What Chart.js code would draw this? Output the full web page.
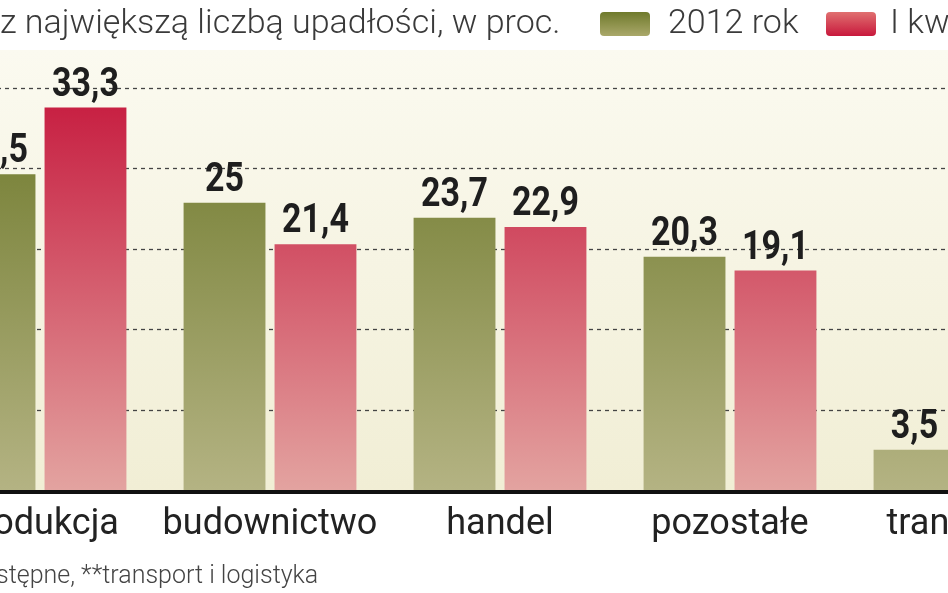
<!DOCTYPE html>
<html><head><meta charset="utf-8">
<script src="https://cdn.jsdelivr.net/npm/chart.js@4"></script>
<style>
html,body{margin:0;padding:0;width:948px;height:593px;overflow:hidden;background:#fff;position:relative;font-family:"Roboto",sans-serif}
#wrap{position:absolute;left:-75px;top:0;width:1150px;height:593px}
.t{position:absolute;color:#3a3a3a;font-size:34px;white-space:nowrap;top:1px;font-weight:300}
.sw{position:absolute;top:12px;width:50px;height:24px;border-radius:4px}
#foot{position:absolute;left:-4px;top:560px;font-size:25px;color:#444;white-space:nowrap;font-weight:300}
</style></head><body>
<div id="wrap"><canvas id="c" width="1150" height="593"></canvas></div>
<div class="t" style="left:0">z największą liczbą upadłości, w proc.</div>
<div class="sw" style="left:600px;background:linear-gradient(#6f7a2c,#aaa86a)"></div>
<div class="t" style="left:668px">2012 rok</div>
<div class="sw" style="left:826px;background:linear-gradient(#e07070,#c8183c)"></div>
<div class="t" style="left:890px">I kwartał 2013</div>
<div id="foot">stępne, **transport i logistyka</div>
<script>
const categories=["produkcja","budownictwo","handel","pozostałe","transport"];
const values2012=[27.5,25,23.7,20.3,3.5];
const values2013=[33.3,21.4,22.9,19.1,2.9];
const gridValues=[7,14,21,28,35];
const fmt=v=>String(v).replace('.',',');
function grad(ctx,area,top,bot){if(!area)return top;const g=ctx.createLinearGradient(0,area.top,0,area.bottom);g.addColorStop(0,top);g.addColorStop(1,bot);return g;}
const deco={id:'deco',
beforeDraw(ch){const {ctx,chartArea:a,scales:{y}}=ch;ctx.save();
 const g=ctx.createLinearGradient(0,50,0,a.bottom);g.addColorStop(0,'#fbfaf0');g.addColorStop(1,'#f1eed5');
 ctx.fillStyle=g;ctx.fillRect(0,50,ch.width,a.bottom-50);
 ctx.strokeStyle='#444';ctx.lineWidth=1.3;ctx.setLineDash([4,4]);
 gridValues.forEach(v=>{const p=Math.round(y.getPixelForValue(v))+0.5;ctx.beginPath();ctx.moveTo(0,p);ctx.lineTo(ch.width,p);ctx.stroke();});
 ctx.restore();},
afterDatasetsDraw(ch){const {ctx,chartArea:a,scales:{x}}=ch;ctx.save();
 ctx.fillStyle='#111';ctx.fillRect(0,a.bottom,ch.width,4);
 ctx.textAlign='center';ctx.textBaseline='bottom';ctx.fillStyle='#1e1e1e';
 ctx.font='bold 40px "Roboto",sans-serif';
 ch.data.datasets.forEach((ds,i)=>{ch.getDatasetMeta(i).data.forEach((b,j)=>{
  ctx.save();ctx.translate(b.x,b.y-2);ctx.scale(0.85,1);ctx.fillText(fmt(ds.data[j]),0,0);ctx.restore();});});
 ctx.font='36px "Roboto",sans-serif';ctx.textBaseline='middle';ctx.fillStyle='#222';
 categories.forEach((c,j)=>ctx.fillText(c,x.getPixelForValue(j),a.bottom+35));
 ctx.restore();}};
new Chart(document.getElementById('c'),{type:'bar',
data:{labels:categories,datasets:[
 {label:'2012 rok',data:values2012,backgroundColor:c=>grad(c.chart.ctx,c.chart.chartArea,'#6e792b','#b4b383')},
 {label:'I kwartał 2013',data:values2013,backgroundColor:c=>grad(c.chart.ctx,c.chart.chartArea,'#c61a3e','#e3a3a0')}]},
options:{responsive:false,animation:false,events:[],
 categoryPercentage:0.791,barPercentage:0.9,
 layout:{padding:{top:88,bottom:103,left:0,right:0}},
 plugins:{legend:{display:false},tooltip:{enabled:false}},
 scales:{x:{display:false},y:{display:false,min:0,max:35}}},
plugins:[deco]});
</script></body></html>
